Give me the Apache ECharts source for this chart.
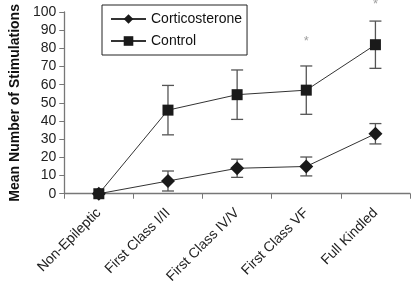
<!DOCTYPE html>
<html>
<head>
<meta charset="utf-8">
<script src="https://cdn.jsdelivr.net/npm/echarts@6/dist/echarts.min.js"></script>
<style>
  html, body { margin: 0; padding: 0; background: #fff; }
  #chart { width: 412px; height: 286px; }
</style>
</head>
<body>
<div id="chart"></div>
<script>
const categories = ['Non-Epileptic', 'First Class I/II', 'First Class IV/V', 'First Class VF', 'Full Kindled']
const cortMean = [0, 7, 14, 15, 33]
const cortErr = [0, 5.5, 5, 5.2, 5.6]
const ctrlMean = [0, 46, 54.5, 57, 82]
const ctrlErr = [0, 13.6, 13.6, 13.3, 13]
const starPos = [null, null, null, 84, 104]

const errData = (mean, err) => mean.map((m, i) => [i, m - err[i], m + err[i]])

function errorBar(params, api) {
  const lo = api.coord([api.value(0), api.value(1)])
  const hi = api.coord([api.value(0), api.value(2)])
  if (Math.abs(lo[1] - hi[1]) < 1) return
  const w = 6
  const style = { stroke: '#555', lineWidth: 1.3 }
  return {
    type: 'group',
    children: [
      { type: 'line', shape: { x1: lo[0], y1: lo[1], x2: hi[0], y2: hi[1] }, style },
      { type: 'line', shape: { x1: lo[0] - w, y1: lo[1], x2: lo[0] + w, y2: lo[1] }, style },
      { type: 'line', shape: { x1: hi[0] - w, y1: hi[1], x2: hi[0] + w, y2: hi[1] }, style }
    ]
  }
}

const chart = echarts.init(document.getElementById('chart'), null, { renderer: 'canvas' })
const font = 'Liberation Sans, Arial, sans-serif'
const option = {
  animation: false,
  textStyle: { fontFamily: font },
  grid: { left: 60, right: 2, top: 12, bottom: 91 },
  legend: {
    orient: 'vertical',
    left: 102,
    top: 5,
    padding: [7, 5, 7, 8],
    itemGap: 8,
    itemWidth: 35,
    itemHeight: 12,
    borderColor: '#222',
    borderWidth: 1,
    textStyle: { fontSize: 14, color: '#111', fontFamily: font },
    data: ['Corticosterone', 'Control']
  },
  xAxis: {
    type: 'category',
    data: categories,
    boundaryGap: true,
    axisLine: { lineStyle: { color: '#777', width: 1.3 } },
    axisTick: { show: true, length: 5, lineStyle: { color: '#777' } },
    axisLabel: { rotate: 45, fontSize: 14, color: '#222', margin: 17, interval: 0 }
  },
  yAxis: {
    type: 'value',
    min: 0,
    max: 100,
    interval: 10,
    name: 'Mean Number of Stimulations',
    nameLocation: 'middle',
    nameGap: 42,
    nameTextStyle: { fontSize: 14, fontWeight: 'bold', color: '#111' },
    splitLine: { show: false },
    axisLine: { show: true, lineStyle: { color: '#777', width: 1.3 } },
    axisTick: { show: true, length: 5, lineStyle: { color: '#777' } },
    axisLabel: { fontSize: 14, color: '#222', margin: 8 }
  },
  series: [
    {
      type: 'custom',
      renderItem: errorBar,
      data: errData(ctrlMean, ctrlErr),
      z: 1,
      silent: true
    },
    {
      type: 'custom',
      renderItem: errorBar,
      data: errData(cortMean, cortErr),
      z: 1,
      silent: true
    },
    {
      name: 'Corticosterone',
      type: 'line',
      data: cortMean,
      symbol: 'diamond',
      symbolSize: 14,
      itemStyle: { color: '#1a1a1a' },
      lineStyle: { color: '#333', width: 1 },
      z: 3
    },
    {
      name: 'Control',
      type: 'line',
      data: ctrlMean,
      symbol: 'rect',
      symbolSize: 11,
      itemStyle: { color: '#1a1a1a' },
      lineStyle: { color: '#333', width: 1 },
      z: 3
    },
    {
      type: 'scatter',
      data: starPos,
      symbolSize: 0,
      clip: false,
      silent: true,
      label: {
        show: true,
        formatter: '*',
        position: 'inside',
        fontSize: 13,
        color: '#888'
      }
    }
  ]
}
chart.setOption(option)
</script>
</body>
</html>
